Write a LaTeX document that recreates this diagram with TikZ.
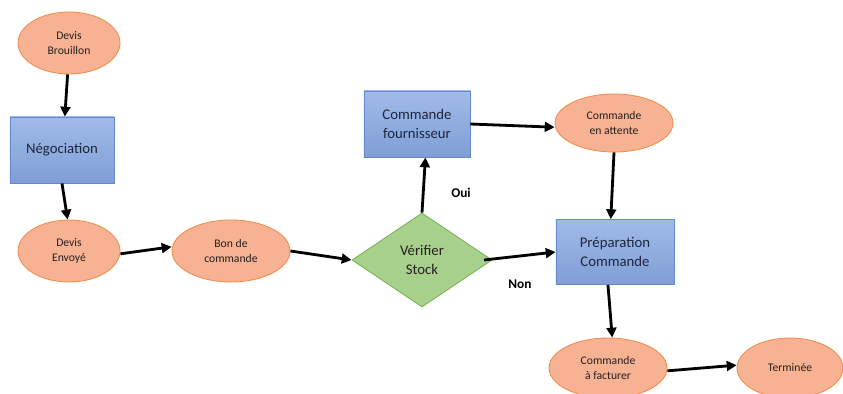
\documentclass[tikz,border=0pt]{standalone}
\usepackage{fontspec}
\setmainfont{Carlito}
\usetikzlibrary{arrows.meta, positioning, shapes.geometric}
\definecolor{etatfill}{RGB}{246,178,146}
\definecolor{etatline}{RGB}{240,140,75}
\definecolor{tachetop}{RGB}{160,187,232}
\definecolor{tachebot}{RGB}{128,158,214}
\definecolor{tacheline}{RGB}{100,138,205}
\definecolor{testfill}{RGB}{168,208,141}
\definecolor{testline}{RGB}{120,178,82}
\definecolor{texte}{RGB}{40,32,30}
\definecolor{textebleu}{RGB}{30,38,60}

\begin{document}
\begin{tikzpicture}[x=0.025cm, y=-0.025cm,
    etat/.style={ellipse, draw=etatline, fill=etatfill, semithick, inner sep=0pt,
        align=center, text=texte, font=\fontsize{8.3}{10.5}\selectfont},
    tache/.style={rectangle, draw=tacheline, top color=tachetop, bottom color=tachebot,
        semithick, inner sep=0pt, align=center, text=textebleu, font=\fontsize{10.5}{13}\selectfont},
    test/.style={diamond, draw=testline, fill=testfill, semithick, inner sep=0pt,
        align=center, text=texte, font=\fontsize{10.5}{13}\selectfont},
    fleche/.style={-{Triangle[length=7pt, width=7pt]}, line width=2pt, black},
    choix/.style={font=\bfseries\fontsize{9.5}{11}\selectfont, text=black}]

    \useasboundingbox (0,0) rectangle (843,394);

    % etats du devis
    \node[etat, minimum width=2.55cm, minimum height=1.55cm] (brouillon) at (69,43) {Devis\\Brouillon};
    \node[tache, minimum width=2.6cm, minimum height=1.65cm] (nego) at (62,150) {N\'egociation};
    \node[etat, minimum width=2.55cm, minimum height=1.55cm] (envoye) at (69,251) {Devis\\Envoy\'e};
    \node[etat, minimum width=2.95cm, minimum height=1.55cm] (bon) at (231,251) {Bon de\\commande};

    % verification du stock
    \node[test, minimum width=3.5cm, minimum height=2.35cm] (stock) at (422,260) {V\'erifier\\Stock};
    \node[tache, minimum width=2.65cm, minimum height=1.65cm] (fourn) at (417,124) {Commande\\fournisseur};
    \node[etat, minimum width=2.95cm, minimum height=1.45cm] (attente) at (614,123) {Commande\\en attente};
    \node[tache, minimum width=2.95cm, minimum height=1.62cm] (prepa) at (615,252) {Pr\'eparation\\Commande};

    % fin
    \node[etat, minimum width=2.95cm, minimum height=1.5cm] (facturer) at (608,368) {Commande\\\`a facturer};
    \node[etat, minimum width=2.65cm, minimum height=1.5cm] (termine) at (790,368) {Termin\'ee};

    \draw[fleche] ([xshift=-1pt]brouillon.south) -- ([xshift=2pt]nego.north);
    \draw[fleche] (nego.south) -- ([xshift=-1pt]envoye.north);
    \draw[fleche] ([yshift=-2pt]envoye.east) -- ([yshift=3pt]bon.west);
    \draw[fleche] (bon.east) -- (stock.west);
    \draw[fleche] (stock.north) -- ([xshift=6pt]fourn.south);
    \draw[fleche] (fourn.east) -- ([yshift=-3pt]attente.west);
    \draw[fleche] (attente.south) -- ([xshift=-3pt]prepa.north);
    \draw[fleche] ([xshift=-6pt]stock.east) -- (prepa.west);
    \draw[fleche] ([xshift=-5pt]prepa.south) -- ([xshift=3pt]facturer.north);
    \draw[fleche] ([yshift=-2pt]facturer.east) -- ([yshift=2pt]termine.west);

    \node[choix] (oui) at (461,193) {Oui};
    \node[choix] (non) at (520,284) {Non};
\end{tikzpicture}
\end{document}
